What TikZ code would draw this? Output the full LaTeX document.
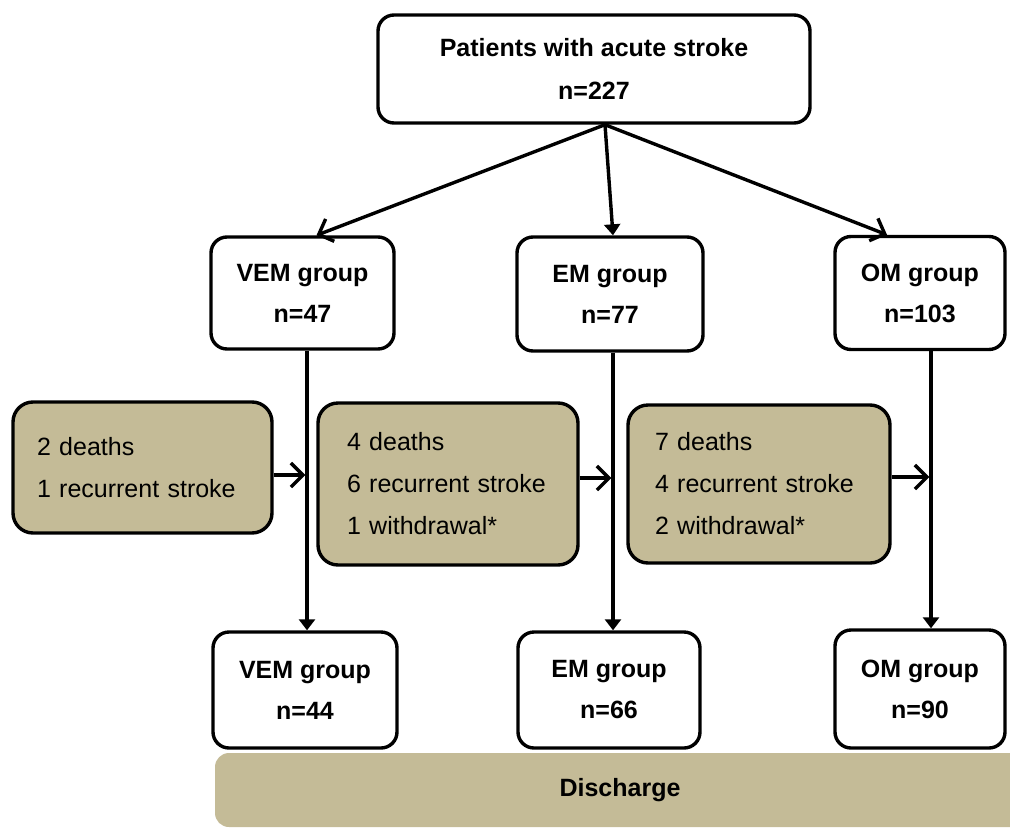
\documentclass[tikz,border=0pt]{standalone}
\usepackage{fontspec}
\setmainfont{Liberation Sans}
\usetikzlibrary{arrows.meta}
\definecolor{tanfill}{RGB}{196,187,151}
\begin{document}
\begin{tikzpicture}[x=1pt,y=-1pt,
  wbox/.style={draw, line width=3.4pt, rounded corners=16pt, fill=white, align=center,
    font=\fontsize{25}{41}\selectfont\bfseries, inner sep=0pt},
  tbox/.style={draw, line width=3.4pt, rounded corners=20pt, fill=tanfill, align=left,
    font=\fontsize{25}{42}\selectfont, inner ysep=0pt},
  conn/.style={line width=3.4pt},
  barb/.style={conn, -{Straight Barb[length=12pt,width=24pt]}},
  tri/.style={conn, -{Triangle[length=11pt,width=16pt]}}
]
\useasboundingbox (0,0) rectangle (1010,828);

% discharge bar
\node[fill=tanfill, rounded corners=14pt, minimum width=810pt, minimum height=74pt,
  inner sep=0pt, font=\fontsize{25}{30}\selectfont\bfseries] (dis) at (620,790) {Discharge};

% top
\node[wbox, minimum width=432pt, minimum height=108pt, font=\fontsize{25}{43}\selectfont\bfseries]
  (top) at (594,69) {Patients with acute stroke\\n=227};

% groups
\node[wbox, minimum width=183pt, minimum height=112pt] (vem1) at (302.5,293) {VEM group\\n=47};
\node[wbox, minimum width=186pt, minimum height=114pt] (em1) at (610,294) {EM group\\n=77};
\node[wbox, minimum width=170pt, minimum height=113pt] (om1) at (920,293) {OM group\\n=103};

\node[wbox, minimum width=184pt, minimum height=116pt] (vem2) at (305,690) {VEM group\\n=44};
\node[wbox, minimum width=182pt, minimum height=116pt] (em2) at (609,690) {EM group\\n=66};
\node[wbox, minimum width=170pt, minimum height=118pt] (om2) at (920,689) {OM group\\n=90};

% exclusions
\node[tbox, inner xsep=24pt, text width=211pt, minimum height=131pt] (t1) at (142.5,467.5)
  {2 deaths\\1 recurrent stroke};
\node[tbox, inner xsep=29pt, text width=202pt, minimum height=162pt] (t2) at (448,484)
  {4 deaths\\6 recurrent stroke\\1 withdrawal*};
\node[tbox, inner xsep=27pt, text width=208pt, minimum height=158pt] (t3) at (759,484)
  {7 deaths\\4 recurrent stroke\\2 withdrawal*};

% columns
\coordinate (v1) at (307,0);
\coordinate (v2) at (613,0);
\coordinate (v3) at (931,0);

% top arrows
\coordinate (src) at ([xshift=11pt]top.south);
\draw[barb] (src) -- ([xshift=14pt]vem1.north);
\draw[tri] (src) -- (em1.north -| v2);
\draw[barb] (src) -- ([xshift=-33pt]om1.north);

% vertical arrows
\draw[tri] (vem1.south -| v1) -- (vem2.north -| v1);
\draw[tri] (em1.south -| v2) -- (em2.north -| v2);
\draw[tri] (om1.south -| v3) -- (om2.north -| v3);

% horizontal arrows
\coordinate (h1) at ([yshift=-7.5pt]t1.east);
\coordinate (h2) at ([yshift=6pt]t2.east);
\coordinate (h3) at ([yshift=7pt]t3.east);
\draw[barb] (h1) -- ([xshift=-1.7pt]h1 -| v1);
\draw[barb] (h2) -- ([xshift=-1.7pt]h2 -| v2);
\draw[barb] (h3) -- ([xshift=-1.7pt]h3 -| v3);
\end{tikzpicture}
\end{document}
